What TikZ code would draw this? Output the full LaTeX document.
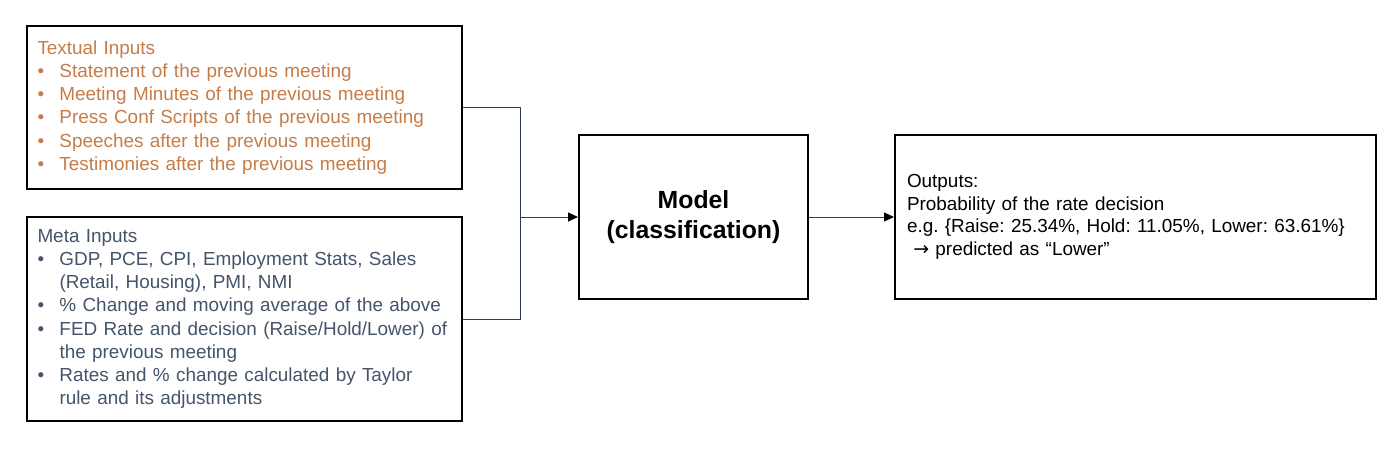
\documentclass[tikz,border=0pt]{standalone}
\usepackage{fontspec}
\setmainfont{Liberation Sans}
\newfontfamily\arrowfont{DejaVu Sans}
\usetikzlibrary{arrows.meta}
\definecolor{textorange}{RGB}{197,124,72}
\definecolor{metablue}{RGB}{68,84,106}
\definecolor{linknavy}{RGB}{47,59,92}
\newcommand{\bul}{\makebox[11pt][l]{\textbullet}}
\newcommand{\hang}{\hspace*{11pt}}
\frenchspacing

\begin{document}
\begin{tikzpicture}[x=0.5pt, y=-0.5pt,
		inbox/.style={draw=black, line width=1pt, rectangle, text width=207pt, inner xsep=5.25pt,
			minimum height=#1, align=left, font=\fontsize{9.45}{11.6}\selectfont},
		modelbox/.style={draw=black, line width=1pt, rectangle, minimum width=114.5pt, minimum height=82pt,
			align=center, font=\fontsize{12.4}{15}\selectfont\bfseries},
		outbox/.style={draw=black, line width=1pt, rectangle, text width=228.5pt, inner xsep=6pt,
			minimum height=82pt, align=left, font=\fontsize{9.45}{11.3}\selectfont},
		link/.style={draw=linknavy, line width=0.5pt},
		tip/.style={-{Triangle[length=5pt, width=4.5pt, color=black]}}]
			%%%%% START %%%%%
			
			\useasboundingbox (0, 0) rectangle (1400, 455);
			
			\node[inbox=81.5pt, text=textorange] (textin) at (244.5, 107.5) {Textual Inputs\\
				\bul Statement of the previous meeting\\
				\bul Meeting Minutes of the previous meeting\\
				\bul Press Conf Scripts of the previous meeting\\
				\bul Speeches after the previous meeting\\
				\bul Testimonies after the previous meeting};
			
			\node[inbox=102pt, text=metablue] (metain) at (244.5, 319) {Meta Inputs\\
				\bul GDP, PCE, CPI, Employment Stats, Sales\\
				\hang(Retail, Housing), PMI, NMI\\
				\bul \% Change and moving average of the above\\
				\bul FED Rate and decision (Raise/Hold/Lower) of\\
				\hang the previous meeting\\
				\bul Rates and \% change calculated by Taylor\\
				\hang rule and its adjustments};
			
			\node[modelbox] (model) at (693.5, 217) {Model\\(classification)};
			
			\node[outbox] (out) at (1135.5, 217) {Outputs:\\
				Probability of the rate decision\\
				e.g. \{Raise: 25.34\%, Hold: 11.05\%, Lower: 63.61\%\}\\
				\ {\arrowfont →} predicted as “Lower”};
			
			\coordinate (join) at (520, 217);
			
			\draw[link] (textin.east) -| (join);
			\draw[link] (metain.east) -| (join);
			\draw[link, tip] (join) -- (model.west);
			\draw[link, tip] (model.east) -- (out.west);
			
			%%%%% END %%%%%
\end{tikzpicture}
\end{document}
